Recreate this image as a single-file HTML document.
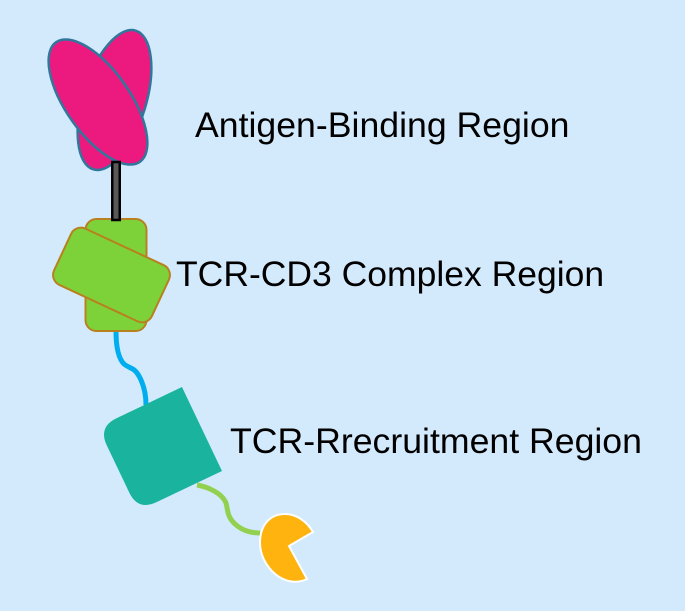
<!DOCTYPE html>
<html>
<head>
<meta charset="utf-8">
<style>
html,body{margin:0;padding:0;background:#d3eafd;}
svg{display:block;}
text{font-family:"Liberation Sans",sans-serif;font-size:35.65px;fill:#000;}
</style>
</head>
<body>
<svg width="685" height="611" viewBox="0 0 685 611" xmlns="http://www.w3.org/2000/svg">
<rect width="685" height="611" fill="#d3eafd"/>
<!-- connectors -->
<path d="M116,331 C116,345 118,358 124,364 C130,369 134,367 139,376 C144,385 146,395 146,405" fill="none" stroke="#00aeef" stroke-width="5"/>
<path d="M197,485 C208,487 222,493 226,503 C228,510 227,516 234,523 C241,530 250,533 260,533" fill="none" stroke="#92d050" stroke-width="5"/>
<!-- ellipses -->
<ellipse cx="114.500" cy="100" rx="31.500" ry="72.500" transform="rotate(17 114.500 100)" fill="#ec197f" stroke="#31779c" stroke-width="2.500"/>
<ellipse cx="98" cy="102" rx="32" ry="73" transform="rotate(-35 98 102)" fill="#ec197f" stroke="#31779c" stroke-width="2.500"/>
<!-- green rects -->
<rect x="85.500" y="219" width="61" height="112" rx="11" ry="11" fill="#7ed239" stroke="#b8801e" stroke-width="2"/>
<rect x="-54" y="-31" width="108" height="62" rx="11" ry="11" transform="translate(111.500 275) rotate(25)" fill="#7ed239" stroke="#b8801e" stroke-width="2"/>
<!-- stick -->
<rect x="112.250" y="162" width="7.500" height="58" fill="#595959" stroke="#000" stroke-width="2.500"/>
<!-- teal -->
<path d="M-46.500,-26 Q-46.500,-46.500 -26,-46.500 L46.500,-46.500 L46.500,46.500 L-26,46.500 Q-46.500,46.500 -46.500,26 Z" transform="translate(160 449) rotate(-25.500)" fill="#1ab39e"/>
<!-- pacman -->
<path d="M289,546 L313,532 C306,520 295,514 285,514 C270,514 260,525 260,543 C260,566 284,590 307,579 Z" fill="#ffb30f" stroke="#fff" stroke-width="2"/>
<!-- labels -->
<text x="195" y="137">Antigen-Binding Region</text>
<text x="176" y="286" style="font-size:35.5px">TCR-CD3 Complex Region</text>
<text x="230" y="453">TCR-Rrecruitment Region</text>
</svg>
</body>
</html>
